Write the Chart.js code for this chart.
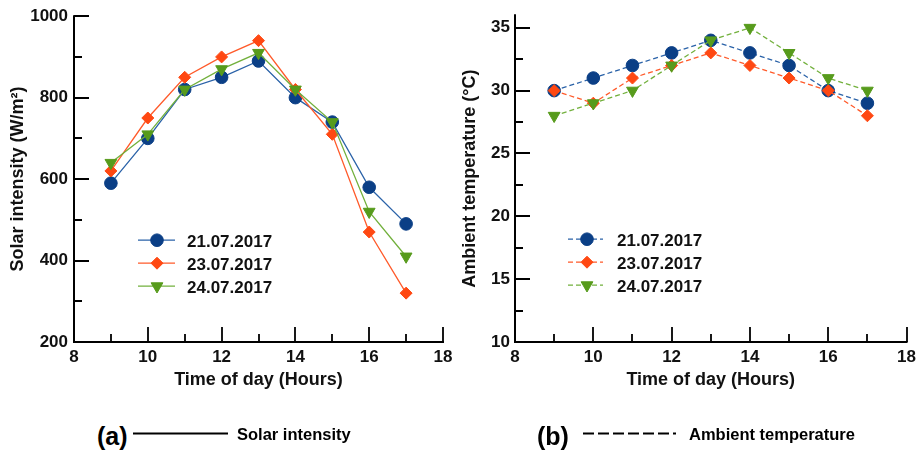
<!DOCTYPE html>
<html>
<head>
<meta charset="utf-8">
<script src="https://cdn.jsdelivr.net/npm/chart.js@4.4.1/dist/chart.umd.min.js"></script>
<style>
  html, body { margin: 0; padding: 0; background: #fff; }
  #wrap { position: relative; width: 921px; height: 450px; overflow: hidden; background: #fff; font-family: "Liberation Sans", Arial, sans-serif; color: #000; }
  canvas { position: absolute; top: 0; }
  .cap { position: absolute; font-weight: bold; white-space: nowrap; line-height: 1; }
</style>
</head>
<body>
<div id="wrap">
  <canvas id="c1" width="460" height="400" style="left:0px"></canvas>
  <canvas id="c2" width="469" height="400" style="left:452px"></canvas>
  <div class="cap" style="left:97px; top:424px; font-size:25px;">(a)</div>
  <svg style="position:absolute; left:0; top:0;" width="921" height="450">
    <line x1="133" y1="433.5" x2="228" y2="433.5" stroke="#000" stroke-width="2"/>
    <line x1="583" y1="433.5" x2="676" y2="433.5" stroke="#000" stroke-width="2" stroke-dasharray="11,4"/>
  </svg>
  <div class="cap" style="left:237px; top:426px; font-size:16.5px;">Solar intensity</div>
  <div class="cap" style="left:537px; top:424px; font-size:25px;">(b)</div>
  <div class="cap" style="left:689px; top:426px; font-size:16.5px;">Ambient temperature</div>
</div>
<script>
// ---- data ----
const hours = [9, 10, 11, 12, 13, 14, 15, 16, 17];
const dateLabels = ['21.07.2017', '23.07.2017', '24.07.2017'];
const solar21 = [590, 700, 820, 850, 890, 800, 740, 580, 490];
const solar23 = [620, 750, 850, 900, 940, 820, 710, 470, 320];
const solar24 = [640, 710, 820, 870, 910, 820, 740, 520, 410];
const temp21 = [30, 31, 32, 33, 34, 33, 32, 30, 29];
const temp23 = [30, 29, 31, 32, 33, 32, 31, 30, 28];
const temp24 = [28, 29, 30, 32, 34, 35, 33, 31, 30];
const xMajorTicks = [8, 10, 12, 14, 16, 18];
const xMinorTicks = [9, 11, 13, 15, 17];
const solarMajorTicks = [200, 400, 600, 800, 1000];
const solarMinorTicks = [300, 500, 700, 900];
const tempMajorTicks = [10, 15, 20, 25, 30, 35];
const tempMinorTicks = [12.5, 17.5, 22.5, 27.5, 32.5];

// ---- styles ----
const FONT = '"Liberation Sans", Arial, sans-serif';
const styles = [
  { marker: '#0b3f86', line: '#2a62a8', pointStyle: 'circle', radius: 6.3, rotation: 0, order: 3 },
  { marker: '#ff4812', line: '#ff5a2a', pointStyle: 'rectRot', radius: 6, rotation: 0, order: 2 },
  { marker: '#579b1c', line: '#72b03c', pointStyle: 'triangle', radius: 6.8, rotation: 180, order: 1 }
];

function makeDatasets(series, dash) {
  return series.map((vals, i) => {
    const s = styles[i];
    return {
      label: dateLabels[i],
      data: hours.map((h, k) => ({ x: h, y: vals[k] })),
      borderColor: s.line,
      backgroundColor: s.marker,
      pointBackgroundColor: s.marker,
      pointBorderColor: s.marker,
      pointBorderWidth: 1,
      pointStyle: s.pointStyle,
      pointRadius: s.radius,
      pointRotation: s.rotation,
      borderWidth: 1.3,
      borderDash: dash,
      tension: 0,
      order: s.order,
      clip: false
    };
  });
}

function drawMarker(ctx, style, x, y) {
  const H = (window.Chart && Chart.helpers && Chart.helpers.drawPoint) ? Chart.helpers.drawPoint : null;
  ctx.fillStyle = style.marker;
  ctx.strokeStyle = style.marker;
  ctx.lineWidth = 1;
  ctx.setLineDash([]);
  if (H) {
    H(ctx, { pointStyle: style.pointStyle, radius: style.radius, rotation: style.rotation, borderWidth: 1 }, x, y);
  } else {
    ctx.beginPath();
    ctx.arc(x, y, style.radius, 0, Math.PI * 2);
    ctx.fill();
  }
}

const axesPlugin = {
  id: 'axesTicks',
  beforeDatasetsDraw(chart, args, o) {
    const { ctx, chartArea: a, scales: { x, y } } = chart;
    ctx.save();
    ctx.strokeStyle = '#000';
    ctx.lineCap = 'square';
    ctx.lineWidth = 2;
    ctx.beginPath();
    ctx.moveTo(a.left, a.top);
    ctx.lineTo(a.left, a.bottom);
    ctx.lineTo(a.right, a.bottom);
    ctx.stroke();
    ctx.lineCap = 'butt';
    ctx.lineWidth = 1.8;
    ctx.beginPath();
    o.yMajor.forEach(v => { const p = Math.round(y.getPixelForValue(v)); ctx.moveTo(a.left, p); ctx.lineTo(a.left + 15, p); });
    o.yMinor.forEach(v => { const p = Math.round(y.getPixelForValue(v)); ctx.moveTo(a.left, p); ctx.lineTo(a.left + 8, p); });
    o.xMajor.forEach(v => { const p = Math.round(x.getPixelForValue(v)); ctx.moveTo(p, a.bottom); ctx.lineTo(p, a.bottom - 15); });
    o.xMinor.forEach(v => { const p = Math.round(x.getPixelForValue(v)); ctx.moveTo(p, a.bottom); ctx.lineTo(p, a.bottom - 8); });
    ctx.stroke();
    ctx.restore();
  }
};

const legendPlugin = {
  id: 'innerLegend',
  afterDatasetsDraw(chart, args, o) {
    const { ctx, chartArea: a } = chart;
    ctx.save();
    chart.data.datasets.forEach((ds, i) => {
      const s = styles[i];
      const yy = a.top + o.y0 + i * 23;
      ctx.strokeStyle = s.line;
      ctx.lineWidth = 1.3;
      ctx.setLineDash(ds.borderDash || []);
      ctx.beginPath();
      ctx.moveTo(a.left + o.lineStart, yy);
      ctx.lineTo(a.left + o.lineEnd, yy);
      ctx.stroke();
      drawMarker(ctx, s, a.left + o.marker, yy);
      ctx.fillStyle = '#111';
      ctx.font = 'bold 17px ' + FONT;
      ctx.textBaseline = 'alphabetic';
      ctx.textAlign = 'left';
      ctx.fillText(ds.label, a.left + o.text, yy + 6.5);
    });
    ctx.restore();
  }
};

function makeChart(id, series, dash, yCfg, yTitle, yWidth, padRight, yPad, legendOpts) {
  return new Chart(document.getElementById(id), {
    type: 'line',
    data: { datasets: makeDatasets(series, dash) },
    options: {
      responsive: false,
      animation: false,
      devicePixelRatio: 1,
      layout: { padding: { top: 13, right: padRight, left: 0, bottom: 0 } },
      plugins: {
        legend: { display: false },
        tooltip: { enabled: false },
        axesTicks: { xMajor: xMajorTicks, xMinor: xMinorTicks, yMajor: yCfg.major, yMinor: yCfg.minor },
        innerLegend: legendOpts
      },
      scales: {
        x: {
          type: 'linear',
          min: 8, max: 18,
          grid: { display: false, drawTicks: false },
          border: { display: false },
          ticks: {
            stepSize: 1, autoSkip: false, maxRotation: 0, padding: 5, includeBounds: false,
            color: '#111', font: { family: FONT, size: 17, weight: 'bold' },
            callback: v => (xMajorTicks.includes(v) ? String(v) : '')
          },
          title: { display: true, text: 'Time of day (Hours)', color: '#111',
                   font: { family: FONT, size: 18, weight: 'bold' }, padding: { top: 0, bottom: 9 } },
          afterFit: s => { s.height = 58; }
        },
        y: {
          type: 'linear',
          min: yCfg.min, max: yCfg.max,
          grid: { display: false, drawTicks: false },
          border: { display: false },
          ticks: {
            stepSize: yCfg.step, autoSkip: false, padding: yPad, includeBounds: false,
            color: '#111', font: { family: FONT, size: 17, weight: 'bold' },
            callback: v => (yCfg.major.includes(v) ? String(v) : '')
          },
          title: { display: true, text: yTitle, color: '#111',
                   font: { family: FONT, size: 18, weight: 'bold' }, padding: { top: 7, bottom: 0 } },
          afterFit: s => { s.width = yWidth; }
        }
      }
    },
    plugins: [axesPlugin, legendPlugin]
  });
}

makeChart('c1', [solar21, solar23, solar24], [],
  { min: 200, max: 1000, step: 100, major: solarMajorTicks, minor: solarMinorTicks },
  'Solar intensity (W/m\u00B2)', 74, 17, 6,
  { y0: 224, lineStart: 64, lineEnd: 101, marker: 83, text: 113 });

makeChart('c2', [temp21, temp23, temp24], [5, 3],
  { min: 10, max: 36, step: 2.5, major: tempMajorTicks, minor: tempMinorTicks },
  'Ambient temperature (\u00B0C)', 63, 13, 5,
  { y0: 224, lineStart: 53, lineEnd: 88, marker: 72, text: 102 });
</script>
</body>
</html>
